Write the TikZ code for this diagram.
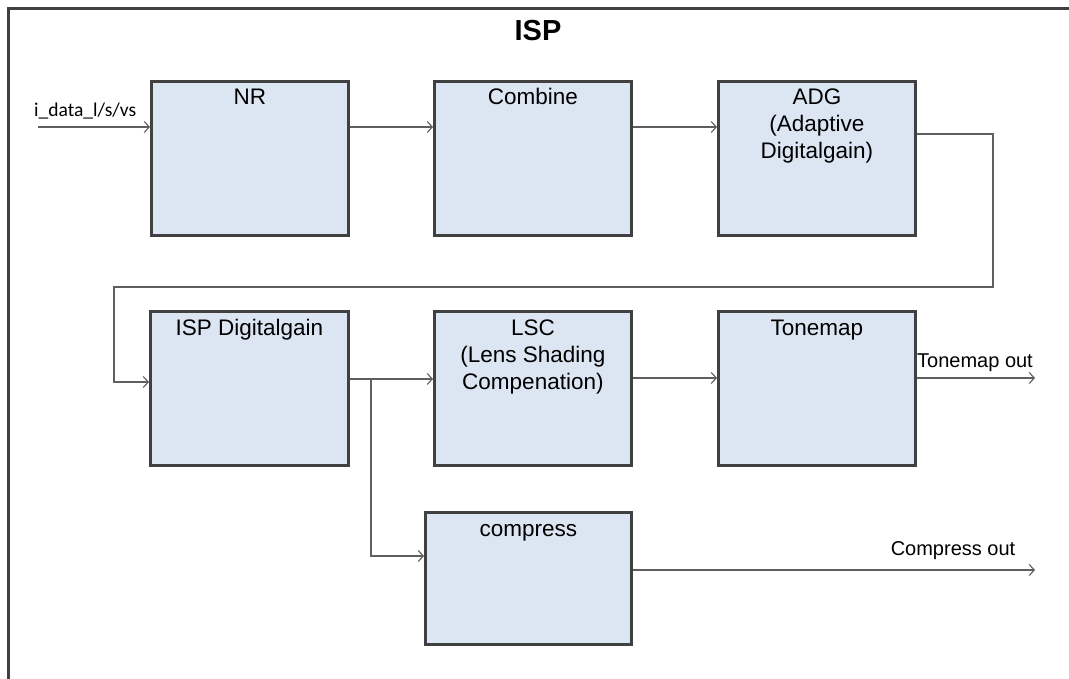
\documentclass[tikz,border=0pt]{standalone}
\usepackage{fontspec}
\setmainfont{Liberation Sans}
\newfontfamily\calib{Carlito}
\usetikzlibrary{arrows.meta,calc}
\definecolor{boxfill}{HTML}{DCE6F2}
\definecolor{boxline}{HTML}{404040}
\definecolor{conline}{HTML}{5F5F5F}
\begin{document}
\begin{tikzpicture}[x=1pt,y=-1pt,
  blk/.style={draw=boxline, fill=boxfill, line width=2.8pt, minimum width=197pt, minimum height=154pt, anchor=north west, inner sep=0pt},
  lbl/.style={anchor=base, align=center, inner sep=0pt, font=\fontsize{22.5}{27}\selectfont},
  outlbl/.style={inner sep=0pt, font=\fontsize{20}{24}\selectfont},
  arr/.style={draw=conline, line width=1.3pt, -{Straight Barb[length=5pt,width=11pt,line width=1.1pt]}}
]
\useasboundingbox (0,0) rectangle (1069,679);
% frame
\draw[boxline, line width=3pt] (1072,9) -- (8,9) -- (8,682);
\node[inner sep=0pt, anchor=base, font=\fontsize{29}{34}\selectfont\bfseries] (title) at (538,41) {ISP};
% boxes
\node[blk] (nr) at (150,80) {};
\node[blk] (comb) at (433,80) {};
\node[blk] (adg) at (717,80) {};
\node[blk, minimum width=198pt] (isp) at (149,310) {};
\node[blk] (lsc) at (433,310) {};
\node[blk] (tm) at (717,310) {};
\node[blk, minimum width=206pt, minimum height=132pt] (comp) at (424,511) {};
% box labels (base anchor = baseline of the last line)
\node[lbl] (nrt) at ($(nr.north)+(0,25)$) {NR};
\node[lbl] (combt) at ($(comb.north)+(0,25)$) {Combine};
\node[lbl] (adgt) at ($(adg.north)+(0,79)$) {ADG\\(Adaptive\\Digitalgain)};
\node[lbl] (ispt) at ($(isp.north)+(0,25)$) {ISP Digitalgain};
\node[lbl] (lsct) at ($(lsc.north)+(0,79)$) {LSC\\(Lens Shading\\Compenation)};
\node[lbl] (tmt) at ($(tm.north)+(0,25)$) {Tonemap};
\node[lbl] (compt) at ($(comp.north)+(0,25)$) {compress};
% coordinates
\coordinate (in) at (38,127);
\coordinate (c1) at (993,134);
\coordinate (fb) at (114,287);
\coordinate (ispin) at (114,382);
\coordinate (br) at (371,379);
\coordinate (cmpin) at (371,556);
\coordinate (tmo) at (1035,378);
\coordinate (cmo) at (1035,570);
% connectors
\draw[arr] (in) -- (in -| nr.west);
\node[outlbl, anchor=base west, font=\calib\fontsize{19.5}{23}\selectfont] (inl) at (34,117) {i\_data\_l/s/vs};
\draw[arr] (nr.east |- in) -- (comb.west |- in);
\draw[arr] (comb.east |- in) -- (adg.west |- in);
\draw[arr] (adg.east |- c1) -- (c1) |- (fb) |- (isp.west |- ispin);
\draw[arr] (isp.east |- br) -- (lsc.west |- br);
\draw[arr] (br) -- (cmpin) -- (comp.west |- cmpin);
\draw[arr] (lsc.east |- tmo) -- (tm.west |- tmo);
\draw[arr] (tm.east |- tmo) -- (tmo);
\draw[arr] (comp.east |- cmo) -- (cmo);
\node[outlbl, anchor=base west] (tmol) at (917,367) {Tonemap out};
\node[outlbl, anchor=base] (cmol) at (953,555) {Compress out};
\end{tikzpicture}
\end{document}
